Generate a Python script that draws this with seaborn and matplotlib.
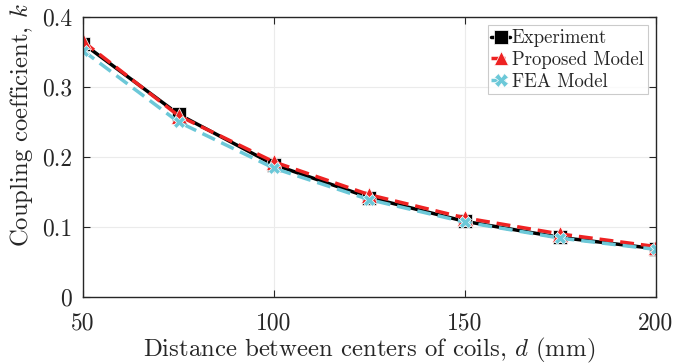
import matplotlib
matplotlib.use("Agg")
import matplotlib.pyplot as plt
import seaborn as sns
import pandas as pd

distance = [50, 75, 100, 125, 150, 175, 200]
experiment = [0.362, 0.261, 0.189, 0.142, 0.108, 0.085, 0.069]
proposed = [0.365, 0.259, 0.193, 0.146, 0.113, 0.090, 0.072]
fea = [0.352, 0.250, 0.184, 0.139, 0.107, 0.084, 0.068]
series_names = ["Experiment", "Proposed Model", "FEA Model"]

sns.set_style("white")
plt.rcParams['font.family'] = ['cmr10', 'DejaVu Serif']
plt.rcParams['mathtext.fontset'] = 'cm'
plt.rcParams['axes.formatter.use_mathtext'] = True

df = pd.DataFrame({
    "d": distance * 3,
    "k": experiment + proposed + fea,
    "series": [series_names[0]] * 7 + [series_names[1]] * 7 + [series_names[2]] * 7,
})

fig = plt.figure(figsize=(6.9, 3.64), dpi=100)
ax = fig.add_axes([0.1203, 0.1841, 0.8304, 0.7692])

palette = {"Experiment": "#000000", "Proposed Model": "#EE2222", "FEA Model": "#6CC8D8"}
markers = {"Experiment": "s", "Proposed Model": "^", "FEA Model": "X"}
dashes = {"Experiment": "", "Proposed Model": (4, 2), "FEA Model": (4, 2)}

sns.lineplot(data=df, x="d", y="k", hue="series", style="series",
             palette=palette, markers=markers, dashes=dashes,
             markersize=10, linewidth=2.5, markeredgewidth=0.5,
             ax=ax, legend=True)
for line, ms in zip(ax.lines, [10, 11, 9]):
    line.set_markersize(ms)

ax.set_xlim(50, 200)
ax.set_ylim(0, 0.4)
ax.set_xticks([50, 100, 150, 200])
ax.set_xticklabels(["50", "100", "150", "200"])
ax.set_yticks([0, 0.1, 0.2, 0.3, 0.4])
ax.set_yticklabels(["0", "0.1", "0.2", "0.3", "0.4"])
ax.grid(True, color="#ebebeb", linewidth=0.8)
ax.tick_params(direction="in", length=5, labelsize=17, color="#262626", colors="#262626")
ax.tick_params(axis="x", pad=11)
ax.tick_params(axis="y", pad=8)
ax.tick_params(axis="both", which="both", top=True, right=True, left=True, bottom=True,
               labeltop=False, labelright=False)
for s in ax.spines.values():
    s.set_visible(True)
    s.set_color("#262626")
    s.set_linewidth(1.0)
ax.set_xlabel("Distance between centers of coils, $d$ (mm)", fontsize=17.8, color="#262626", labelpad=1)
ax.set_ylabel("Coupling coefficient, $k$", fontsize=17.8, color="#262626")
ax.yaxis.set_label_coords(-0.084, 0.614)

leg = ax.legend(loc="upper right", fontsize=13.5, frameon=True, fancybox=False,
                edgecolor="#bfbfbf", handlelength=1.0, handletextpad=0.1,
                borderpad=0.2, labelspacing=0.2, borderaxespad=0.45)
leg.get_frame().set_linewidth(0.8)

fig.savefig("out.png", dpi=100)
